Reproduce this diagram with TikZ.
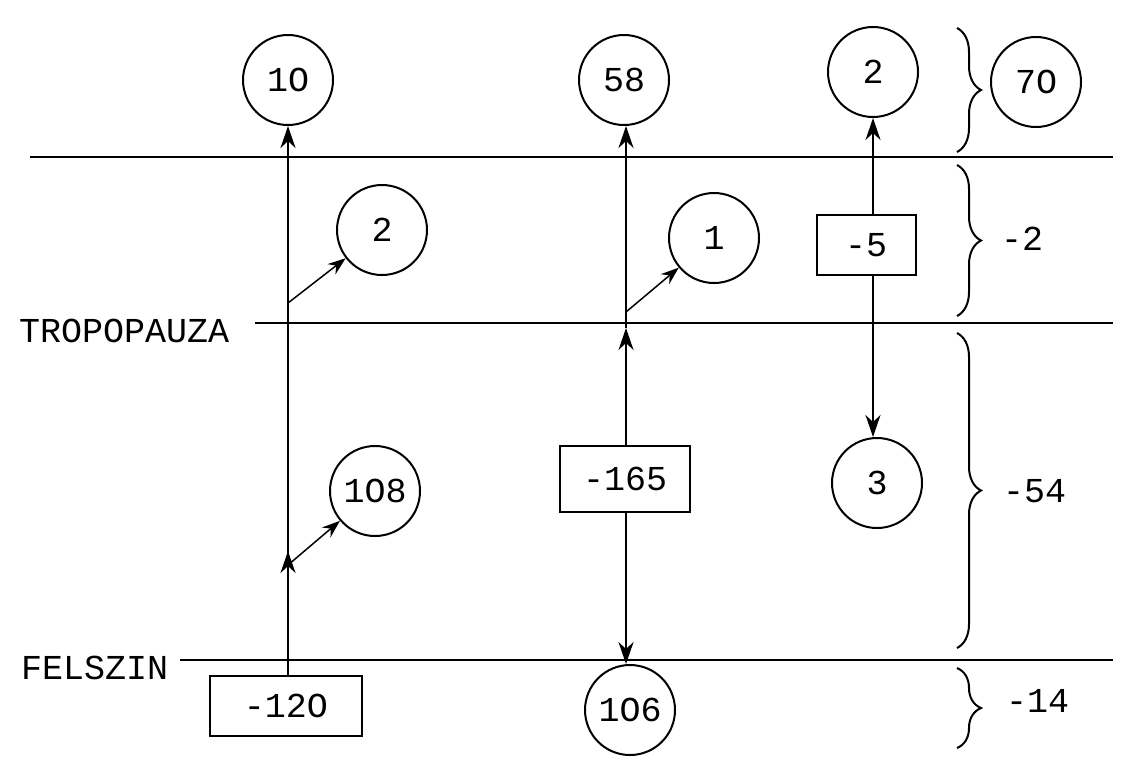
\documentclass[tikz,border=0pt]{standalone}
\usepackage{fontspec}
\setmainfont{Liberation Mono}
\usetikzlibrary{arrows.meta,decorations.pathreplacing}
\begin{document}
\begin{tikzpicture}[x=1pt,y=-1pt,
  every node/.style={font=\fontsize{35}{35}\selectfont},
  ln/.style={line width=2pt},
  cnode/.style={draw,circle,line width=2pt,minimum size=90pt,inner sep=0pt},
  bnode/.style={draw,rectangle,line width=2pt,inner sep=0pt},
  arr/.style={line width=1.8pt,-{Stealth[length=22pt,width=15pt,inset=7pt]}},
  arrs/.style={line width=1.5pt,-{Stealth[length=18pt,width=13pt,inset=6pt]}},
  br/.style={line width=2pt,decorate,decoration={brace,amplitude=24pt}},
  lbl/.style={anchor=west,inner sep=0pt}]
\useasboundingbox (0,0) rectangle (1123,772);
% layer lines
\draw[ln] (30,157) -- (1113,157);
\draw[ln] (255,323) -- (1113,323);
\draw[ln] (180,660) -- (1113,660);
\node[lbl] (trop) at (19,331) {TROPOPAUZA};
\node[lbl] (fels) at (21,668) {FELSZIN};
% column 1
\node[cnode] (c10) at (288,80) {1O};
\node[cnode] (c2a) at (382,230) {2};
\node[cnode] (c108) at (375,491) {1O8};
\node[bnode,minimum width=152pt,minimum height=60pt] (b120) at (286,706) {-12O};
\coordinate (j1) at (288,565);
\coordinate (j2) at (288,303);
\draw[arr] (b120.north -| j1) -- ([yshift=14pt]j1);
\draw[ln] ([yshift=14pt]j1) -- (j1);
\draw[arr] (j1) -- (c10.south);
\draw[arrs] (j1) -- (c108);
\draw[arrs] (j2) -- (c2a);
% column 2
\node[cnode] (c58) at (624,80) {58};
\node[cnode] (c1) at (714,238) {1};
\node[bnode,minimum width=130pt,minimum height=66pt] (b165) at (625,479) {-165};
\node[cnode] (c106) at (630,710) {1O6};
\coordinate (j3) at (626,328);
\coordinate (j4) at (626,312);
\draw[arr] (b165.north -| j3) -- (j3);
\draw[arr] (j3) -- (c58.south -| j3);
\draw[arrs] (j4) -- (c1);
\draw[arr] (b165.south -| j3) -- (c106.north -| j3);
% column 3
\node[cnode] (c2b) at (873,72) {2};
\node[bnode,minimum width=99pt,minimum height=60pt] (b5) at (866,245) {-5};
\node[cnode] (c3) at (877,483) {3};
\draw[arr] (b5.north -| c2b) -- (c2b.south);
\draw[arr] (b5.south -| c2b) -- (c3.north -| c2b);
% braces
\draw[br] (957,28) -- (957,152);
\draw[br] (957,165) -- (957,316);
\draw[br] (957,333) -- (957,648);
\draw[br] (957,668) -- (957,748);
\node[cnode] (c70) at (1036,82) {7O};
\node[lbl] (l2) at (1001,239) {-2};
\node[lbl] (l54) at (1003,491) {-54};
\node[lbl] (l14) at (1006,701) {-14};
\end{tikzpicture}
\end{document}
